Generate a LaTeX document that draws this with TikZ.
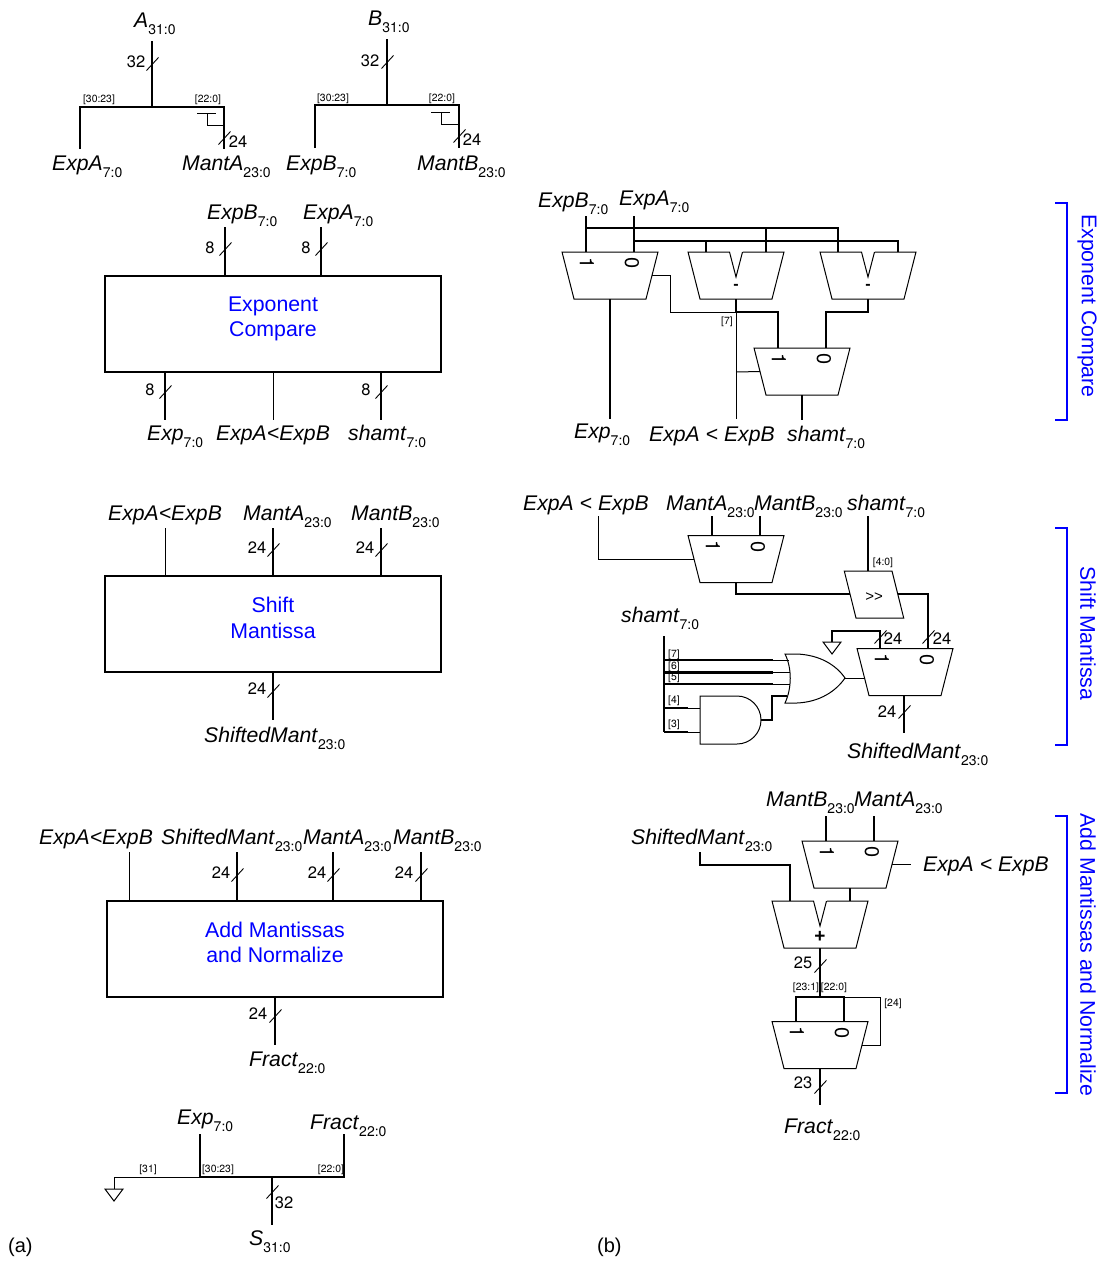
\documentclass[tikz,border=0pt]{standalone}
\usepackage{fontspec}
\setmainfont{Liberation Sans}
\newfontfamily\digitfont{TeX Gyre Heros}
\usetikzlibrary{shapes.geometric, positioning}
\definecolor{blocktext}{HTML}{0000FF}
\newcommand{\sig}[2]{\textit{#1}\raisebox{-7.5pt}{\fontsize{14}{16}\digitfont #2}}
\newcommand{\muxbits}[1]{%
  \node (#1one) [muxbit, rotate=-90] at ([xshift=-23pt, yshift=-11pt]#1.north) {1};
  \node (#1zero) [muxbit, rotate=90] at ([xshift=22pt, yshift=-11pt]#1.north) {0};}
\newcommand{\alunotch}[1]{%
  \fill [white] ([xshift=-6.5pt]#1.north) -- ([yshift=-25pt]#1.north) -- ([xshift=6.5pt]#1.north) -- cycle;
  \draw [white, line width=1.6] ([xshift=-6.5pt]#1.north) -- ([xshift=6.5pt]#1.north);
  \draw [wire] ([xshift=-6.5pt]#1.north) -- ([yshift=-25pt]#1.north) -- ([xshift=6.5pt]#1.north);}
\begin{document}
\begin{tikzpicture}[x=1pt, y=-1pt]
    \tikzstyle{wire} = [line width=1]
    \tikzstyle{bus} = [line width=2.1]
    \tikzstyle{tick} = [line width=0.9]
    \tikzstyle{signal} = [anchor=base west, inner sep=0, font=\fontsize{21.2}{24}\selectfont]
    \tikzstyle{bitw} = [inner sep=0, font=\fontsize{16.5}{18}\digitfont]
    \tikzstyle{bitpos} = [inner sep=0, font=\fontsize{10.4}{12}\digitfont]
    \tikzstyle{block} = [rectangle, draw, line width=2, minimum width=336, minimum height=96]
    \tikzstyle{blocklabel} = [inner sep=0, align=center, text=blocktext, font=\fontsize{21.3}{25.5}\selectfont]
    \tikzstyle{mux} = [trapezium, draw, line width=1, trapezium left angle=75.7, trapezium right angle=75.7, shape border rotate=180, inner xsep=36, inner ysep=23.5, outer sep=0]
    \tikzstyle{muxbit} = [inner sep=0, font=\fontsize{20}{22}\digitfont]
    \tikzstyle{alusign} = [inner sep=0, font=\fontsize{16}{18}\bfseries]
    \tikzstyle{section} = [inner sep=0, rotate=-90, text=blocktext, font=\fontsize{21.3}{24}\selectfont]
    \tikzstyle{bracket} = [line width=1.4, color=blocktext]
    \useasboundingbox (0,0) rectangle (1111,1261);

    % split A
    \node (a) [signal] at (134,27) {\sig{A}{31:0}};
    \node (expa) [signal] at (52,170) {\sig{ExpA}{7:0}};
    \node (manta) [signal] at (182,170) {\sig{MantA}{23:0}};
    \node (awidth) [bitw] at (136,62) {32};
    \node (mawidth) [bitw] at (238,142) {24};
    \node (ahigh) [bitpos] at (99,100) {[30:23]};
    \node (alow) [bitpos] at (208,100) {[22:0]};
    \coordinate (atop) at (152,41);
    \coordinate (abus) at (152,107);
    \coordinate (expaend) at (80,149);
    \coordinate (mantaend) at (224,149);
    \coordinate (atee) at (224,125);
    \coordinate (abar) at (207,113);
    \draw [bus] (atop) -- (abus);
    \draw [bus] (expaend) |- (abus) -| (mantaend);
    \draw [wire] (atee) -| (abar);
    \draw [wire] ([xshift=-10pt]abar) -- ([xshift=9pt]abar);
    \draw [tick] (152.5,64) ++(-6,6.5) -- ++(12,-13);
    \draw [tick] (224.5,138) ++(-6,6.5) -- ++(12,-13);

    % split B
    \node (b) [signal] at (368,25) {\sig{B}{31:0}};
    \node (expb) [signal] at (286,170) {\sig{ExpB}{7:0}};
    \node (mantb) [signal] at (417,170) {\sig{MantB}{23:0}};
    \node (bwidth) [bitw] at (370,61) {32};
    \node (mbwidth) [bitw] at (472,140) {24};
    \node (bhigh) [bitpos] at (333,99) {[30:23]};
    \node (blow) [bitpos] at (442,99) {[22:0]};
    \coordinate (btop) at (387,39);
    \coordinate (bbus) at (387,105);
    \coordinate (expbend) at (315,148);
    \coordinate (mantbend) at (459,148);
    \coordinate (btee) at (459,124);
    \coordinate (bbar) at (441,112);
    \draw [bus] (btop) -- (bbus);
    \draw [bus] (expbend) |- (bbus) -| (mantbend);
    \draw [wire] (btee) -| (bbar);
    \draw [wire] ([xshift=-10pt]bbar) -- ([xshift=9pt]bbar);
    \draw [tick] (387.5,62) ++(-6,6.5) -- ++(12,-13);
    \draw [tick] (459.5,136) ++(-6,6.5) -- ++(12,-13);

    % exponent compare block
    \node (cmp) [block] at (273,324) {};
    \node (cmptext) [blocklabel] at (273,319) {Exponent\\Compare};
    \node (cmpexpb) [signal] at (207,219) {\sig{ExpB}{7:0}};
    \node (cmpexpa) [signal] at (303,219) {\sig{ExpA}{7:0}};
    \node (cmpexp) [signal] at (147,440) {\sig{Exp}{7:0}};
    \node (cmpless) [signal] at (216,440) {\textit{ExpA<ExpB}};
    \node (cmpshamt) [signal] at (348,440) {\sig{shamt}{7:0}};
    \node (cmpw1) [bitw] at (210,248) {8};
    \node (cmpw2) [bitw] at (306,248) {8};
    \node (cmpw3) [bitw] at (150,390) {8};
    \node (cmpw4) [bitw] at (366,390) {8};
    \coordinate (cmpb) at (225,227);
    \coordinate (cmpa) at (321,227);
    \coordinate (cmpo1) at (165,420);
    \coordinate (cmpo2) at (273,420);
    \coordinate (cmpo3) at (381,420);
    \draw [bus] (cmpb) -- (cmpb |- cmp.north);
    \draw [bus] (cmpa) -- (cmpa |- cmp.north);
    \draw [bus] (cmpo1 |- cmp.south) -- (cmpo1);
    \draw [wire] (cmpo2 |- cmp.south) -- (cmpo2);
    \draw [bus] (cmpo3 |- cmp.south) -- (cmpo3);
    \draw [tick] (225.5,249) ++(-6,6.5) -- ++(12,-13);
    \draw [tick] (321.5,249) ++(-6,6.5) -- ++(12,-13);
    \draw [tick] (165.5,392) ++(-6,6.5) -- ++(12,-13);
    \draw [tick] (381.5,392) ++(-6,6.5) -- ++(12,-13);

    % shift mantissa block
    \node (shf) [block] at (273,624) {};
    \node (shftext) [blocklabel] at (273,618) {Shift\\Mantissa};
    \node (shfless) [signal] at (108,520) {\textit{ExpA<ExpB}};
    \node (shfa) [signal] at (243,520) {\sig{MantA}{23:0}};
    \node (shfb) [signal] at (351,520) {\sig{MantB}{23:0}};
    \node (shfout) [signal] at (204,742) {\sig{ShiftedMant}{23:0}};
    \node (shfw1) [bitw] at (257,548) {24};
    \node (shfw2) [bitw] at (365,548) {24};
    \node (shfw3) [bitw] at (257,689) {24};
    \coordinate (shfi1) at (165,528);
    \coordinate (shfi2) at (273,528);
    \coordinate (shfi3) at (381,528);
    \coordinate (shfo) at (273,720);
    \draw [wire] (shfi1) -- (shfi1 |- shf.north);
    \draw [bus] (shfi2) -- (shfi2 |- shf.north);
    \draw [bus] (shfi3) -- (shfi3 |- shf.north);
    \draw [bus] (shfo |- shf.south) -- (shfo);
    \draw [tick] (273.5,550) ++(-6,6.5) -- ++(12,-13);
    \draw [tick] (381.5,550) ++(-6,6.5) -- ++(12,-13);
    \draw [tick] (273.5,691) ++(-6,6.5) -- ++(12,-13);

    % add mantissas block
    \node (add) [block] at (275,948.5) {};
    \node (addtext) [blocklabel] at (275,942.5) {Add Mantissas\\and Normalize};
    \node (addless) [signal] at (39,844) {\textit{ExpA<ExpB}};
    \node (addshf) [signal] at (161,844) {\sig{ShiftedMant}{23:0}};
    \node (adda) [signal] at (303,844) {\sig{MantA}{23:0}};
    \node (addb) [signal] at (393,844) {\sig{MantB}{23:0}};
    \node (addfract) [signal] at (249,1066) {\sig{Fract}{22:0}};
    \node (addw1) [bitw] at (221,873) {24};
    \node (addw2) [bitw] at (317,873) {24};
    \node (addw3) [bitw] at (404,873) {24};
    \node (addw4) [bitw] at (258,1014) {24};
    \coordinate (addi1) at (129,852);
    \coordinate (addi2) at (237,852);
    \coordinate (addi3) at (333,852);
    \coordinate (addi4) at (421,852);
    \coordinate (addo) at (275,1045);
    \draw [wire] (addi1) -- (addi1 |- add.north);
    \draw [bus] (addi2) -- (addi2 |- add.north);
    \draw [bus] (addi3) -- (addi3 |- add.north);
    \draw [bus] (addi4) -- (addi4 |- add.north);
    \draw [bus] (addo |- add.south) -- (addo);
    \draw [tick] (237.5,875) ++(-6,6.5) -- ++(12,-13);
    \draw [tick] (333.5,875) ++(-6,6.5) -- ++(12,-13);
    \draw [tick] (421.5,875) ++(-6,6.5) -- ++(12,-13);
    \draw [tick] (275.5,1016) ++(-6,6.5) -- ++(12,-13);

    % merge
    \node (mexp) [signal] at (177,1124) {\sig{Exp}{7:0}};
    \node (mfract) [signal] at (310,1129) {\sig{Fract}{22:0}};
    \node (ms) [signal] at (249,1245) {\sig{S}{31:0}};
    \node (msign) [bitpos] at (148,1170) {[31]};
    \node (mhigh) [bitpos] at (218,1170) {[30:23]};
    \node (mlow) [bitpos] at (331,1170) {[22:0]};
    \node (mwidth) [bitw] at (284,1203) {32};
    \coordinate (mtop1) at (200,1134);
    \coordinate (mtop2) at (344,1134);
    \coordinate (mjoin1) at (200,1177);
    \coordinate (mjoin2) at (344,1177);
    \coordinate (mstem) at (272,1177);
    \coordinate (mout) at (272,1225);
    \coordinate (mgnd) at (114,1189);
    \draw [bus] (mtop1) -- (mjoin1) -- (mjoin2) -- (mtop2);
    \draw [bus] (mstem) -- (mout);
    \draw [wire] (mjoin1) -| (mgnd);
    \draw [wire] (mgnd) ++(-9,0) -- ++(18,0) -- ++(-9,12) -- cycle;
    \draw [tick] (272.5,1192) ++(-6,6.5) -- ++(12,-13);

    % exponent compare circuit
    \node (rexpb) [signal] at (538,207) {\sig{ExpB}{7:0}};
    \node (rexpa) [signal] at (619,205) {\sig{ExpA}{7:0}};
    \node (rexp) [signal] at (574,438) {\sig{Exp}{7:0}};
    \node (rless) [signal] at (649,441) {\textit{ExpA < ExpB}};
    \node (rshamt) [signal] at (787,441) {\sig{shamt}{7:0}};
    \node (rseven) [bitpos] at (727,322) {[7]};
    \node (m1) [mux] at (610,275.5) {};
    \node (alu1) [mux] at (736,275.5) {};
    \node (alu2) [mux] at (868,275.5) {};
    \node (m2) [mux] at (802,371.5) {};
    \muxbits{m1}
    \muxbits{m2}
    \alunotch{alu1}
    \alunotch{alu2}
    \node (alu1sign) [alusign] at (736,287) {-};
    \node (alu2sign) [alusign] at (868,287) {-};
    \coordinate (rb) at (586,216);
    \coordinate (ra) at (634,216);
    \coordinate (rbrow) at (586,228);
    \coordinate (rarow) at (634,241);
    \coordinate (rsel) at (670,312);
    \coordinate (rlow) at (736,419);
    \coordinate (rmid) at (736,372);
    \coordinate (rexpo) at (610,419);
    \coordinate (rshout) at (802,420);
    \draw [bus] (rb) -- ([xshift=-24pt]m1.north);
    \draw [bus] (ra) -- ([xshift=24pt]m1.north);
    \draw [bus] (rbrow) -| ([xshift=-30pt]alu2.north);
    \draw [bus] (rbrow -| alu1.north) ++(30,0) -- ([xshift=30pt]alu1.north);
    \draw [bus] (rarow) -| ([xshift=30pt]alu2.north);
    \draw [bus] (rarow -| alu1.north) ++(-30,0) -- ([xshift=-30pt]alu1.north);
    \draw [wire] (m1.east) -| (rsel) -- (rsel -| alu1.south);
    \draw [bus] (alu1.south) |- ([xshift=-24pt]m2.north |- rsel) -- ([xshift=-24pt]m2.north);
    \draw [bus] (alu2.south) |- ([xshift=24pt]m2.north |- rsel) -- ([xshift=24pt]m2.north);
    \draw [wire] (rsel -| alu1.south) -- (rlow);
    \draw [wire] (rmid) -- (m2.west);
    \draw [bus] (m1.south) -- (rexpo);
    \draw [bus] (m2.south) -- (rshout);

    % shift mantissa circuit
    \node (sless) [signal] at (523,510) {\textit{ExpA < ExpB}};
    \node (sa) [signal] at (666,510) {\sig{MantA}{23:0}};
    \node (sb) [signal] at (754,510) {\sig{MantB}{23:0}};
    \node (sshamt) [signal] at (847,510) {\sig{shamt}{7:0}};
    \node (sshamt2) [signal] at (621,622) {\sig{shamt}{7:0}};
    \node (sout) [signal] at (847,758) {\sig{ShiftedMant}{23:0}};
    \node (m3) [mux] at (736,559) {};
    \node (m4) [mux] at (905,672) {};
    \muxbits{m3}
    \muxbits{m4}
    \node (shifter) [trapezium, draw, line width=1, trapezium left angle=104, trapezium right angle=76, inner xsep=18, inner ysep=23.5, outer sep=0] at (874,594.5) {};
    \node (shiftsign) [inner sep=0, font=\fontsize{15}{16}\selectfont] at (874,597) {>\kern0pt>};
    \node (sfour) [bitpos] at (883,563) {[4:0]};
    \node (sw1) [bitw] at (893,639) {24};
    \node (sw2) [bitw] at (942,639) {24};
    \node (sw3) [bitw] at (887,712) {24};
    \node (sb7) [bitpos] at (674,655) {[7]};
    \node (sb6) [bitpos] at (674,667) {[6]};
    \node (sb5) [bitpos] at (674,678) {[5]};
    \node (sb4) [bitpos] at (674,701) {[4]};
    \node (sb3) [bitpos] at (674,725) {[3]};
    \coordinate (sl) at (598,516);
    \coordinate (sma) at (712,516);
    \coordinate (smb) at (760,516);
    \coordinate (ssh) at (868,516);
    \coordinate (sbend) at (736,594);
    \coordinate (sshin) at (850,594);
    \coordinate (sshout) at (898,594);
    \coordinate (sgnd) at (832,642);
    \coordinate (sgndtop) at (832,631);
    \coordinate (sbustop) at (664,636);
    \coordinate (sbusend) at (664,732);
    \coordinate (sor7) at (773,660);
    \coordinate (sor6) at (773,672.5);
    \coordinate (sor5) at (773,684);
    \coordinate (sand4) at (688,708);
    \coordinate (sand3) at (688,732);
    \coordinate (sandout) at (761,720);
    \coordinate (sorb) at (772,696);
    \coordinate (sorout) at (845,678);
    \coordinate (sm4sel) at (864,678);
    \coordinate (sfinal) at (904,733);
    \draw [wire] (sl) |- (m3.west);
    \draw [bus] (sma) -- ([xshift=-24pt]m3.north);
    \draw [bus] (smb) -- ([xshift=24pt]m3.north);
    \draw [bus] (m3.south) |- (sshin);
    \draw [bus] (ssh) -- (ssh |- shifter.north);
    \draw [bus] (sshout) -| ([xshift=23pt]m4.north);
    \draw [bus] ([xshift=-25pt]m4.north) |- (sgndtop) -- (sgnd);
    \draw [wire] (sgnd) ++(-9,0) -- ++(18,0) -- ++(-9,12) -- cycle;
    \draw [bus] (sbustop) -- (sbusend);
    \draw [bus] (sbustop |- sor7) -- (sor7);
    \draw [bus] (sbustop |- sor6) -- (sor6);
    \draw [bus] (sbustop |- sor5) -- (sor5);
    \draw [bus] (sbustop |- sand4) -- (sand4);
    \draw [bus] (sbustop |- sand3) -- (sand3);
    \draw [wire] (sor7) -- (789,660);
    \draw [wire] (sor6) -- (790,672.5);
    \draw [wire] (sor5) -- (790,684);
    \draw [wire] (sand4) -- (700,708);
    \draw [wire] (sand3) -- (700,732);
    % and gate
    \draw [wire] (700,696) -- (737,696) arc (-90:90:24) -- (700,744) -- cycle;
    % or gate
    \draw [wire] (785,654) -- (797,654) .. controls (820,655) and (836,665) .. (845,678) .. controls (836,691) and (820,702) .. (797,703) -- (785,703) .. controls (792,688) and (792,668) .. (785,654) -- cycle;
    \draw [bus] (sandout) -| (sorb) -- (787,696);
    \draw [wire] (sorout) -- (sm4sel);
    \draw [bus] (m4.south) ++(-1,0) -- (sfinal);
    \draw [tick] (880.5,637) ++(-6,6.5) -- ++(12,-13);
    \draw [tick] (928.5,637) ++(-6,6.5) -- ++(12,-13);
    \draw [tick] (904.5,712) ++(-6,6.5) -- ++(12,-13);

    % add mantissas circuit
    \node (ab) [signal] at (766,806) {\sig{MantB}{23:0}};
    \node (aa) [signal] at (854,806) {\sig{MantA}{23:0}};
    \node (ashf) [signal] at (631,844) {\sig{ShiftedMant}{23:0}};
    \node (aless) [signal] at (923,871) {\textit{ExpA < ExpB}};
    \node (afract) [signal] at (784,1133) {\sig{Fract}{22:0}};
    \node (m5) [mux] at (850,864.5) {};
    \node (adder) [mux] at (820,924.5) {};
    \node (m6) [mux] at (820,1045) {};
    \muxbits{m5}
    \muxbits{m6}
    \alunotch{adder}
    \node (addersign) [alusign, font=\fontsize{19}{20}\bfseries] at (820,937) {+};
    \node (aw1) [bitw] at (803,963) {25};
    \node (aw2) [bitw] at (803,1083) {23};
    \node (ahi) [bitpos] at (806,988) {[23:1]};
    \node (alo) [bitpos] at (834,988) {[22:0]};
    \node (atop24) [bitpos] at (893,1004) {[24]};
    \coordinate (amb) at (826,816);
    \coordinate (ama) at (874,816);
    \coordinate (asel) at (911,864.5);
    \coordinate (as) at (700,852);
    \coordinate (asrow) at (790,865);
    \coordinate (asplit) at (820,997);
    \coordinate (acarry) at (880,1045);
    \coordinate (afinal) at (820,1105);
    \draw [bus] (amb) -- ([xshift=-24pt]m5.north);
    \draw [bus] (ama) -- ([xshift=24pt]m5.north);
    \draw [wire] (m5.east) -- (asel);
    \draw [bus] (as) |- (asrow) -- ([xshift=-30pt]adder.north);
    \draw [bus] (m5.south) -- (m5.south |- adder.north);
    \draw [bus] (adder.south) -- (asplit);
    \draw [bus] ([xshift=-24pt]m6.north) |- (asplit) -| ([xshift=24pt]m6.north);
    \draw [wire] ([xshift=24pt]m6.north |- asplit) -| (acarry) -- (m6.east);
    \draw [bus] (m6.south) -- (afinal);
    \draw [tick] (820.5,966) ++(-6,6.5) -- ++(12,-13);
    \draw [tick] (820.5,1087) ++(-6,6.5) -- ++(12,-13);

    % section brackets
    \node (sec1) [section] at (1087,306) {Exponent Compare};
    \node (sec2) [section] at (1088,633.5) {Shift Mantissa};
    \node (sec3) [section] at (1088,955) {Add Mantissas and Normalize};
    \coordinate (br1a) at (1055,203);
    \coordinate (br1b) at (1067,420);
    \coordinate (br2a) at (1055,528);
    \coordinate (br2b) at (1067,745);
    \coordinate (br3a) at (1055,816);
    \coordinate (br3b) at (1067,1093);
    \draw [bracket] (br1a) -| (br1b) -- (br1b -| br1a);
    \draw [bracket] (br2a) -| (br2b) -- (br2b -| br2a);
    \draw [bracket] (br3a) -| (br3b) -- (br3b -| br3a);

    \node (parta) [signal, font=\fontsize{20}{22}\selectfont] at (8,1252) {(a)};
    \node (partb) [signal, font=\fontsize{20}{22}\selectfont] at (597,1252) {(b)};
\end{tikzpicture}
\end{document}
